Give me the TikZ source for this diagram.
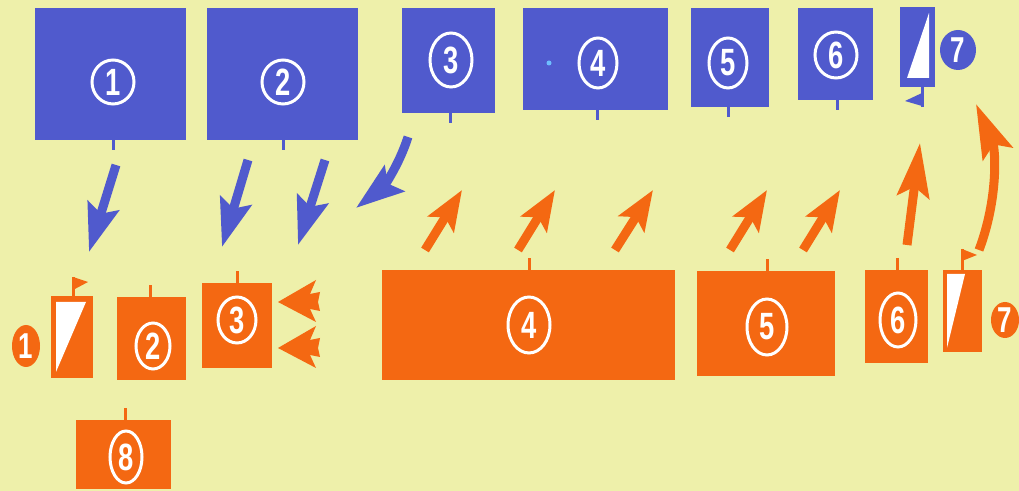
\documentclass[tikz,border=0pt]{standalone}
\usepackage{fontspec}
\setmainfont{Liberation Sans}
\usetikzlibrary{arrows.meta,shapes.geometric}
\definecolor{mapYellow}{RGB}{238,240,170}
\definecolor{mapBlue}{RGB}{80,90,205}
\definecolor{mapOrange}{RGB}{244,104,18}
\definecolor{specBlue}{RGB}{110,190,255}
\newcommand{\slimnum}[1]{\scalebox{0.72}[1]{#1}}

\begin{document}
\begin{tikzpicture}[x=0.5pt, y=-0.5pt,
    ring/.style 2 args={ellipse, draw=white, line width=1.5pt, inner sep=0pt,
      minimum width=#1*1pt, minimum height=#2*1pt, text=white,
      font=\bfseries\fontsize{19}{19}\selectfont},
    dot/.style 2 args={ellipse, inner sep=0pt, minimum width=#1*1pt,
      minimum height=#2*1pt, text=white, font=\bfseries\fontsize{18}{18}\selectfont},
    stemline/.style={line width=1.5pt},
    barrow/.style={mapBlue, line width=4.5pt, -{Stealth[length=24pt,width=16pt,inset=4pt]}},
    oarrow/.style={mapOrange, line width=4.5pt, -{Stealth[length=20pt,width=15pt,inset=4pt]}},
    longarrow/.style={oarrow, -{Stealth[length=27pt,width=16pt,inset=5pt]}}]
  \path[use as bounding box, fill=mapYellow] (0,0) rectangle (1019,491);

  % top row (blue)
  \foreach \xa/\xb/\yb/\sx in {35/186/140/113, 207/358/140/283, 402/495/113/450,
      523/668/110/597, 691/769/107/728, 798/873/100/837} {
    \fill[mapBlue] (\xa,8) rectangle (\xb,\yb);
    \draw[stemline, mapBlue] (\sx,\yb) -- ++(0,10);
  }
  \fill[specBlue] (549,63) circle (2.5);
  \foreach \n/\cx/\cy/\rx/\ry in {1/113/82/21/22, 2/283/82/21/22, 3/451/60/21/27,
      4/598/63/19/25, 5/728/63/19/25, 6/836/55/21/23}
    \node[ring={\rx}{\ry}] (t\n) at (\cx,\cy) {\slimnum{\n}};
  % blue control flag
  \fill[mapBlue] (900,7) rectangle (935,87);
  \fill[white] (907,78) -- (929,13) -- (929,78) -- cycle;
  \draw[stemline, mapBlue] (922,87) -- (922,107);
  \fill[mapBlue] (922,93) -- (922,106) -- (905,101) -- cycle;
  \node[dot={18}{20}, fill=mapBlue] (t7) at (958,50) {\slimnum{7}};

  % bottom row (orange)
  \foreach \xa/\ya/\xb/\yb/\sx in {117/297/186/380/150, 202/283/272/368/237,
      382/270/675/380/529, 697/271/835/376/767, 865/270/928/363/897, 76/420/171/489/125} {
    \fill[mapOrange] (\xa,\ya) rectangle (\xb,\yb);
    \draw[stemline, mapOrange] (\sx,\ya) -- ++(0,-12);
  }
  \foreach \n/\cx/\cy/\rx/\ry in {2/153/346/17/23, 3/237/320/19/23, 4/529/325/21/28,
      5/767/327/20/28, 6/898/320/18/27, 8/126/457/16/26}
    \node[ring={\rx}{\ry}] (b\n) at (\cx,\cy) {\slimnum{\n}};
  % start flag
  \fill[mapOrange] (51,296) rectangle (93,378);
  \fill[white] (56,302) -- (86,302) -- (56,372) -- cycle;
  \draw[stemline, mapOrange] (73,296) -- (73,277);
  \fill[mapOrange] (73,277) -- (73,290) -- (88,282) -- cycle;
  \node[dot={14}{21}, fill=mapOrange] (b1) at (26,346) {\slimnum{1}};
  % finish flag
  \fill[mapOrange] (943,270) rectangle (982,352);
  \fill[white] (947,274) -- (965,274) -- (947,348) -- cycle;
  \draw[stemline, mapOrange] (962,270) -- (962,249);
  \fill[mapOrange] (962,249) -- (962,261) -- (977,255) -- cycle;
  \node[dot={14}{18}, fill=mapOrange] (b7) at (1005,320) {\slimnum{7}};
  % arrowheads beside 3
  \foreach \dy in {0,46}
    \fill[mapOrange] (278,302+\dy) -- (316,280+\dy) -- (310,294+\dy) -- (320,292+\dy)
      -- (318,302+\dy) -- (320,311+\dy) -- (310,309+\dy) -- (316,322+\dy) -- cycle;

  % arrows
  \foreach \i/\ax/\ay/\bx/\by in {1/116/165/89/252, 2/248/160/222/247, 3/325/160/298/245} {
    \coordinate (bs\i) at (\ax,\ay);
    \coordinate (be\i) at (\bx,\by);
    \draw[barrow] (bs\i) -- (be\i);
  }
  \coordinate (bs4) at (408,137);
  \coordinate (be4) at (356,208);
  \draw[barrow] (bs4) .. controls (398,168) and (382,188) .. (be4);
  \foreach \i/\ax/\bx in {1/425/462, 2/518/555, 3/615/653, 4/730/767, 5/803/840} {
    \coordinate (os\i) at (\ax,250);
    \coordinate (oe\i) at (\bx,190);
    \draw[oarrow] (os\i) -- (oe\i);
  }
  \coordinate (os6) at (907,245);
  \coordinate (oe6) at (920,143);
  \draw[longarrow] (os6) -- (oe6);
  \coordinate (os7) at (979,250);
  \coordinate (oe7) at (976,104);
  \draw[longarrow] (os7) .. controls (998,200) and (996,150) .. (oe7);
\end{tikzpicture}
\end{document}
